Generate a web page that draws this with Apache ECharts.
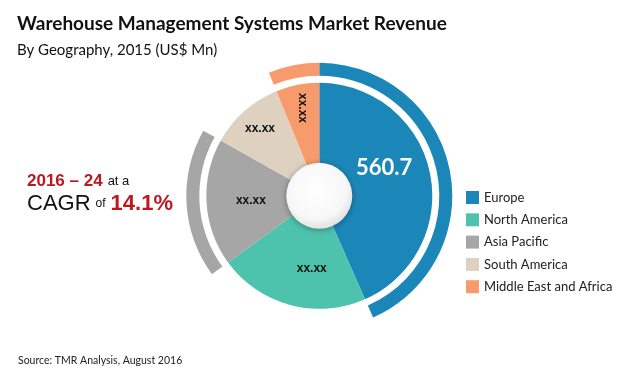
<!DOCTYPE html>
<html>
<head>
<meta charset="utf-8">
<script src="https://cdn.jsdelivr.net/npm/echarts@6/dist/echarts.min.js"></script>
<style>html,body{margin:0;padding:0;background:#fff}#c{width:620px;height:373px}</style>
</head>
<body>
<div id="c"></div>
<script>
var categories = ['Europe', 'North America', 'Asia Pacific', 'South America', 'Middle East and Africa'];
var values = [560.7, 279, 235, 138, 80];
var valueLabels = ['560.7', 'xx.xx', 'xx.xx', 'xx.xx', 'xx.xx'];
var colors = ['#1b87b9', '#4dc3ae', '#a6a6a6', '#ded1c0', '#f89b6c'];
var ringShown = [true, false, true, false, true];
var outerLabelItems = [false, false, false, true, true];
// label nudges (padding trick: top, right, bottom, left)
var labelPads = [[0, 18, 0, 0], [8, 0, 0, 24], [0, 0, 0, 14], [0, 0, 0, 0], [0, 0, 0, 0]];

var chart = echarts.init(document.getElementById('c'), null, {renderer: 'canvas'});
var center = ['51.5%', '52.5%'];

var mainData = categories.map(function (n, i) {
  var inner = !outerLabelItems[i];
  return {
    name: n, value: values[i],
    itemStyle: {color: colors[i]},
    label: {
      show: inner,
      formatter: i === 0 ? valueLabels[i] + '\n ' : valueLabels[i],
      color: i === 0 ? '#ffffff' : '#111111',
      fontSize: i === 0 ? 22 : 12,
      lineHeight: i === 0 ? 24 : 14,
      fontWeight: 'bold',
      fontFamily: i === 0 ? 'Lato' : 'Liberation Sans',
      padding: labelPads[i]
    }
  };
});
var labelData = categories.map(function (n, i) {
  return {
    name: n, value: values[i],
    itemStyle: {color: 'rgba(0,0,0,0)'},
    label: {
      show: outerLabelItems[i],
      formatter: valueLabels[i],
      color: '#111111', fontSize: 12, fontWeight: 'bold', fontFamily: 'Liberation Sans',
      rotate: i === 4 ? -90 : 0,
      padding: labelPads[i]
    }
  };
});
var ringData = categories.map(function (n, i) {
  return {name: n, value: values[i], itemStyle: {color: ringShown[i] ? colors[i] : 'rgba(0,0,0,0)'}};
});

chart.setOption({
  animation: false,
  title: [
    {text: 'Warehouse Management Systems Market Revenue', left: 12, top: 9,
     textStyle: {fontFamily: 'Lato', fontSize: 19, fontWeight: 'bold', color: '#111'}},
    {text: 'By Geography, 2015 (US$ Mn)', left: 12, top: 38,
     textStyle: {fontFamily: 'Lato', fontSize: 15, fontWeight: 'normal', color: '#111'}},
    {text: '{a|2016 – 24} {s|at a}\n{c|CAGR} {o|of} {e|14.1%}', left: 22, top: 166,
     textStyle: {fontWeight: 'normal', rich: {
       a: {fontFamily: 'Liberation Sans', fontSize: 17, fontWeight: 'bold', color: '#c0171f', lineHeight: 21},
       s: {fontFamily: 'Liberation Sans', fontSize: 13, fontWeight: 'normal', color: '#111', lineHeight: 21},
       c: {fontFamily: 'Liberation Sans', fontSize: 22, fontWeight: 'normal', color: '#111', lineHeight: 23},
       o: {fontFamily: 'Liberation Sans', fontSize: 12, fontWeight: 'normal', color: '#111', lineHeight: 23},
       e: {fontFamily: 'Liberation Sans', fontSize: 22, fontWeight: 'bold', color: '#c0171f', lineHeight: 23}
     }}},
    {text: 'Source: TMR Analysis, August 2016', left: 13, top: 350,
     textStyle: {fontFamily: 'Lato', fontSize: 10.5, fontWeight: 'normal', color: '#222'}}
  ],
  legend: {
    orient: 'vertical', left: 461, top: 186,
    data: categories, icon: 'rect', itemWidth: 13, itemHeight: 13, itemGap: 9.3,
    textStyle: {fontFamily: 'Lato', fontSize: 13, color: '#222'},
    selectedMode: false
  },
  series: [
    {type: 'pie', name: 'main', center: center, radius: [32, 113], startAngle: 90, clockwise: true,
     silent: true, label: {position: 'inside'}, labelLine: {show: false}, data: mainData, z: 2},
    {type: 'pie', name: 'labels', center: center, radius: [60, 113], startAngle: 90, clockwise: true,
     silent: true, label: {position: 'inside'}, labelLine: {show: false}, data: labelData, z: 3},
    {type: 'pie', name: 'ring', center: center, radius: [120, 133], startAngle: 90, clockwise: true,
     silent: true, label: {show: false}, labelLine: {show: false}, data: ringData, z: 1},
    {type: 'pie', name: 'hub', center: center, radius: [0, 33], silent: true,
     label: {show: false}, labelLine: {show: false}, z: 4,
     data: [{value: 1, name: 'hub', itemStyle: {
       color: {type: 'radial', x: 0.45, y: 0.4, r: 0.65, colorStops: [
         {offset: 0, color: '#ffffff'}, {offset: 0.7, color: '#f7f7f7'}, {offset: 1, color: '#dcdcdc'}]},
       shadowBlur: 6, shadowColor: 'rgba(0,0,0,0.35)', shadowOffsetY: 1}}]}
  ]
});
</script>
</body>
</html>
